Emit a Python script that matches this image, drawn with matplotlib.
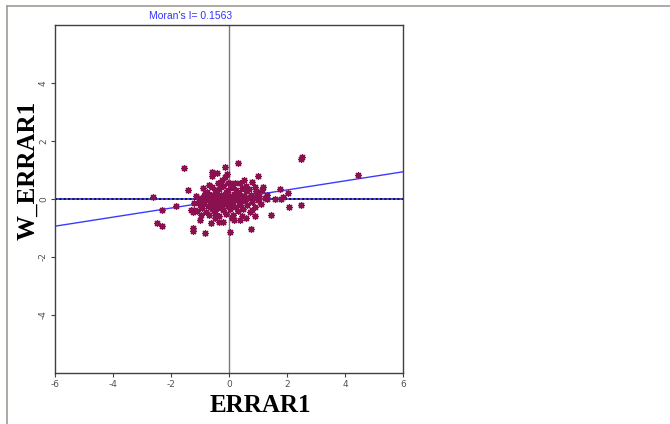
"""
Moran 散点图 — ERRAR1 与其空间滞后 W_ERRAR1
"""
import numpy as np
import matplotlib

matplotlib.use("Agg")
import matplotlib.pyplot as plt
from matplotlib.lines import Line2D

# 数据
errar1 = [
    -2.63, -2.32, -2.47, -2.30, -1.83, -1.40, -1.54, -1.23, -1.23, -1.30, -1.20, -1.12, -1.25,
    0.32, -0.14, -0.60, -0.42, -0.60, -0.06, -0.37, 0.03, 0.38, 0.78, 1.01, 0.88, 1.16, -0.89, -0.48, -0.82,
    -0.62, -0.34, -0.20, -1.00, -0.82, 0.03, 0.16, 0.38, 0.58, 0.75, 1.44, -1.00,
    2.50, 2.47, 4.46, 1.76, 2.05, 1.30, 1.32, 1.59, 1.78, 1.85, 0.78, 2.08, 2.47, 0.93, 1.25,
    -1.05, -0.95, -0.92, -0.88, -0.85, -0.80, -0.78, -0.75, -0.72, -0.70, -0.68, -0.65, -0.62, -0.60,
    -0.57, -0.55, -0.52, -0.50, -0.47, -0.45, -0.42, -0.40, -0.38, -0.35, -0.33, -0.30, -0.28, -0.25,
    -0.22, -0.20, -0.18, -0.15, -0.12, -0.10, -0.08, -0.05, -0.02, 0.00, 0.03, 0.05, 0.08, 0.10,
    0.12, 0.15, 0.18, 0.20, 0.22, 0.25, 0.28, 0.30, 0.33, 0.35, 0.38, 0.42, 0.45, 0.48, 0.52, 0.55,
    0.58, 0.62, 0.65, 0.70, 0.72, 0.75, 0.80, 0.85, 0.90, 0.95, 1.00, 1.05, 1.10, 1.15, 0.60, -0.05,
    0.20, -0.25, -0.70, -1.15, -1.20, -0.95, -0.50, 0.10, 0.45, 0.90, -0.15, 0.50,
]
w_errar1 = [
    0.08, -0.38, -0.84, -0.93, -0.23, 0.31, 1.08, -1.00, -1.12, -0.38, -0.38, -0.42, -0.45,
    1.25, 1.09, 0.94, 0.88, 0.78, 0.85, 0.54, 0.54, 0.54, 0.60, 0.79, 0.42, 0.43, 0.37, 0.31, 0.20,
    -0.82, -0.80, -0.80, -0.72, -1.18, -1.13, -0.72, -0.72, -0.66, -1.03, -0.55, -0.21,
    1.44, 1.37, 0.83, 0.33, 0.20, 0.14, -0.01, -0.01, 0.00, 0.06, -0.38, -0.29, -0.21, 0.29, 0.05,
    -0.10, 0.05, -0.30, -0.15, 0.12, -0.45, -0.05, 0.25, -0.25, 0.02, -0.55, -0.12, 0.15, -0.35,
    0.40, -0.02, -0.22, 0.08, -0.48, 0.22, -0.10, 0.05, -0.30, 0.35, -0.60, -0.05, 0.15, -0.20,
    0.45, -0.38, 0.02, -0.12, 0.25, -0.50, 0.10, -0.25, 0.30, -0.08, 0.12, -0.35, 0.05, -0.15,
    0.40, -0.55, 0.18, -0.02, -0.28, 0.30, 0.08, -0.42, -0.10, 0.22, -0.22, 0.02, 0.38, -0.35, 0.12, -0.08,
    0.28, -0.20, 0.05, 0.35, -0.45, 0.15, -0.12, 0.05, -0.28, 0.20, -0.05, 0.10, -0.18, 0.30, 0.45, 0.55,
    0.55, 0.65, 0.50, 0.10, -0.15, -0.55, -0.65, -0.65, -0.58, -0.60, 0.75, 0.65,
]
morans_i = 0.1563
x_ticks = [-6, -4, -2, 0, 2, 4, 6]
y_ticks = [-4, -2, 0, 2, 4]

W, H = 670, 424
fig = plt.figure(figsize=(W / 100, H / 100), dpi=100)
fig.patch.set_facecolor("white")

ax = fig.add_axes([55 / W, 1 - 373 / H, 348 / W, 348 / H])
ax.set_xlim(-6, 6)
ax.set_ylim(-6, 6)

# 坐标轴参考线
ax.axvline(0, color="#7a7a7a", lw=1.0, zorder=1)
ax.axhline(0, color="#3b3bff", lw=1.3, zorder=1)
ax.axhline(0, color="#101030", lw=1.3, dashes=(1.2, 1.2), zorder=2)

# 回归线（斜率 = Moran's I）
xs = np.array([-6, 6])
ax.plot(xs, morans_i * xs, color="#3b3bff", lw=1.0, zorder=2)

ax.plot(errar1, w_errar1, linestyle="none", marker=(8, 2, 0), markersize=5,
        markeredgewidth=0.9, color="#8a1050", zorder=3)

for s in ax.spines.values():
    s.set_color("#404040")
    s.set_linewidth(1.0)

ax.set_xticks(x_ticks)
ax.set_yticks(y_ticks)
ax.set_xticklabels([str(t) for t in x_ticks])
ax.set_yticklabels([str(t) for t in y_ticks], rotation=90, va="center")
ax.tick_params(axis="both", direction="out", length=3, width=0.8, color="#404040",
               labelsize=6.5, labelcolor="#505050", pad=2)

ax.set_title(f"Moran's I= {morans_i}", fontsize=7.5, color="#3333ff",
             family="Liberation Sans", x=0.39, pad=4)

fig.text(260 / W, 1 - 405 / H, "ERRAR1", family="Liberation Serif", fontweight="bold",
         fontsize=18, ha="center", va="center")
fig.text(28 / W, 1 - 170 / H, "W_ERRAR1", family="Liberation Serif", fontweight="bold",
         fontsize=18, rotation=90, ha="center", va="center")

# 外框线
fig.add_artist(Line2D([7 / W, 1], [1 - 6 / H, 1 - 6 / H], color="#a09c94", lw=1.2))
fig.add_artist(Line2D([7 / W, 7 / W], [0, 1 - 6 / H], color="#a09c94", lw=1.2))

fig.savefig("out.png", dpi=100)
plt.close(fig)
